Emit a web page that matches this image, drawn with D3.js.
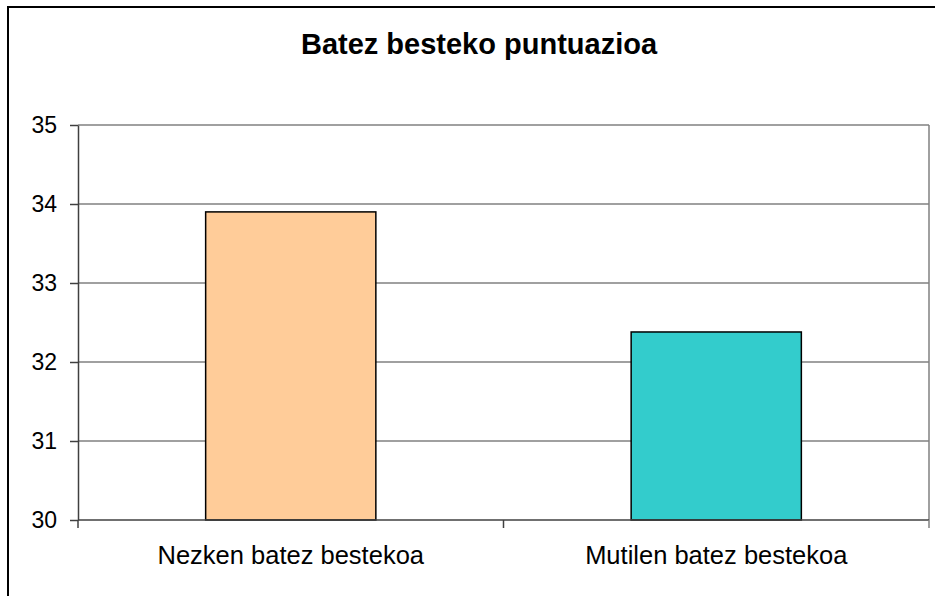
<!DOCTYPE html>
<html>
<head>
<meta charset="utf-8">
<script src="https://cdn.jsdelivr.net/npm/d3@7"></script>
<style>
    body { margin: 0; background: #fff; }
    svg { display: block; font-family: "Liberation Sans", Arial, sans-serif; }
</style>
</head>
<body>
<div id="chart"></div>
<script>
// data
const categories = ["Nezken batez bestekoa", "Mutilen batez bestekoa"];
const values = [33.9, 32.38];
const barColors = ["#FFCC99", "#33CCCC"];
const yTicks = [30, 31, 32, 33, 34, 35];
const title = "Batez besteko puntuazioa";

let W = 935, H = 596;
let margin = {top: 125, right: 6, bottom: 76, left: 78};
let width = W - margin.left - margin.right,
    height = H - margin.top - margin.bottom;

let root = d3.select("#chart").append("svg")
    .attr("width", W)
    .attr("height", H);

// outer chart border
root.append("rect")
    .attr("x", 8).attr("y", 7)
    .attr("width", W + 10).attr("height", H + 10)
    .attr("fill", "none")
    .attr("stroke", "#000")
    .attr("stroke-width", 2);

root.append("text")
    .attr("x", 479)
    .attr("y", 54)
    .attr("text-anchor", "middle")
    .style("font-size", "29px")
    .style("font-weight", "bold")
    .text(title);

let svg = root.append("g")
    .attr("transform", "translate(" + margin.left + "," + margin.top + ")");

let x = d3.scaleBand()
    .domain(categories)
    .range([0, width])
    .paddingInner(0.6)
    .paddingOuter(0.3);

let y = d3.scaleLinear()
    .domain([30, 35])
    .range([height, 0]);

// gridlines
svg.selectAll(".grid")
    .data(yTicks.slice(1))
    .enter()
    .append("line")
    .attr("x1", 0).attr("x2", width)
    .attr("y1", d => y(d)).attr("y2", d => y(d))
    .attr("stroke", "#808080")
    .attr("stroke-width", 1.5);

// right edge of plot
svg.append("line")
    .attr("x1", width).attr("x2", width)
    .attr("y1", 0).attr("y2", height)
    .attr("stroke", "#808080")
    .attr("stroke-width", 1.5);

// bars
svg.selectAll(".bar")
    .data(values)
    .enter()
    .append("rect")
    .attr("x", (d, i) => x(categories[i]))
    .attr("y", d => y(d))
    .attr("width", x.bandwidth())
    .attr("height", d => y(30) - y(d))
    .attr("fill", (d, i) => barColors[i])
    .attr("stroke", "#000")
    .attr("stroke-width", 1.5);

// y axis
let yAxis = svg.append("g")
    .call(d3.axisLeft(y).tickValues(yTicks).tickFormat(d3.format("d"))
        .tickSize(8).tickPadding(13).tickSizeOuter(0));
yAxis.select(".domain").attr("stroke", "#404040").attr("stroke-width", 1.5);
yAxis.selectAll(".tick line").attr("stroke", "#404040").attr("stroke-width", 1.5);
yAxis.selectAll("text")
    .style("font-size", "23px")
    .style("font-family", "Liberation Sans, Arial, sans-serif")
    .attr("fill", "#000");

// x axis with ticks between categories
let xAxis = svg.append("g")
    .attr("transform", "translate(0," + height + ")");
xAxis.append("line")
    .attr("x1", 0).attr("x2", width)
    .attr("stroke", "#404040")
    .attr("stroke-width", 1.5);
xAxis.selectAll(".sep")
    .data([0, width / 2, width])
    .enter()
    .append("line")
    .attr("x1", d => d).attr("x2", d => d)
    .attr("y1", 0).attr("y2", 8)
    .attr("stroke", (d, i) => i == 2 ? "#808080" : "#404040")
    .attr("stroke-width", 1.5);
xAxis.selectAll(".lbl")
    .data(categories)
    .enter()
    .append("text")
    .attr("x", d => x(d) + x.bandwidth() / 2)
    .attr("y", 44)
    .attr("text-anchor", "middle")
    .style("font-size", "25.5px")
    .text(d => d);
</script>
</body>
</html>
